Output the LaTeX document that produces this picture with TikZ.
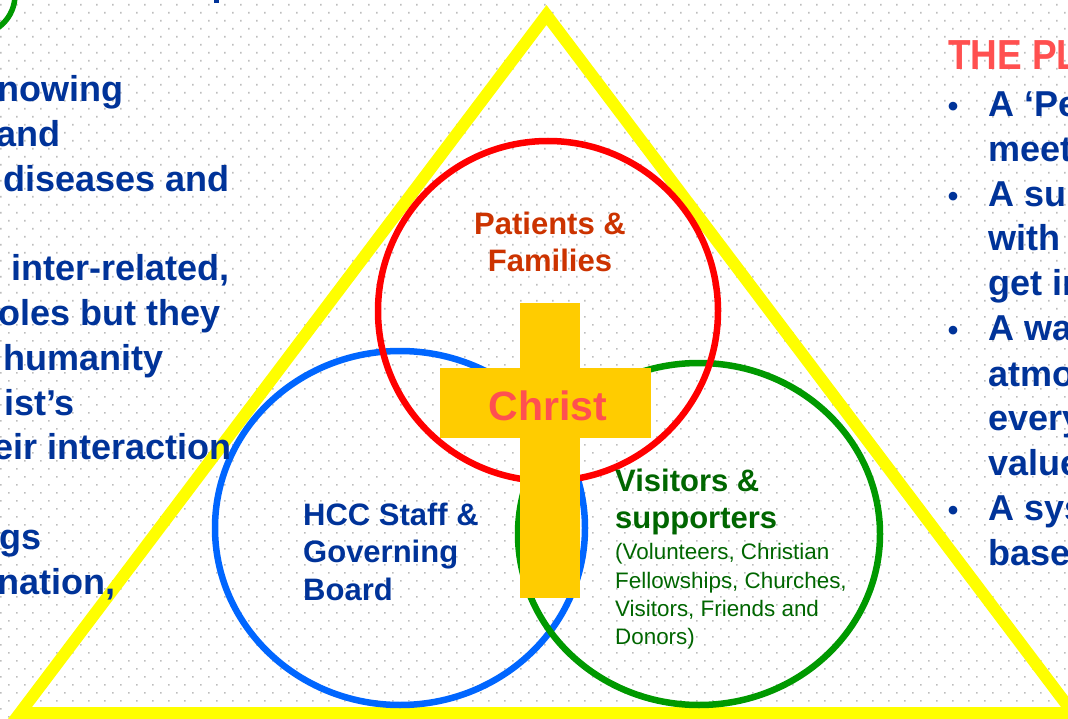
\documentclass[tikz,border=0pt]{standalone}
\usepackage{fontspec}
\setmainfont{Liberation Sans}
\definecolor{dotc}{HTML}{BDBDBD}
\definecolor{tri}{HTML}{FFFF00}
\definecolor{redc}{HTML}{FF0000}
\definecolor{bluec}{HTML}{0066FF}
\definecolor{greenc}{HTML}{009900}
\definecolor{crossc}{HTML}{FFCC00}
\definecolor{christc}{HTML}{FF5050}
\definecolor{patc}{HTML}{CC3300}
\definecolor{navy}{HTML}{003399}
\definecolor{dgreen}{HTML}{006600}
\definecolor{titlec}{HTML}{FF5050}
\begin{document}
\begin{tikzpicture}[x=1pt,y=-1pt,
  bigtxt/.style={inner sep=0pt,text=navy,font=\fontsize{36}{45}\selectfont\bfseries},
  labtxt/.style={inner sep=0pt,font=\fontsize{31}{37}\selectfont\bfseries},
  smalltxt/.style={inner sep=0pt,text=dgreen,font=\fontsize{22.4}{28}\selectfont},
  ring/.style={line width=6.5pt}]
\useasboundingbox (0,0) rectangle (1068,719);
\clip (0,0) rectangle (1068,719);
\fill[white] (0,0) rectangle (1068,719);
% dotted background
\fill[dotc] \foreach \r in {0,...,89} {
  \foreach \c in {0,...,67} {
    ({mod(\r,2)*8+16*\c},{4+8*\r}) rectangle ++(1.7,1.7)
  }
};
% partial green circle top-left and blue mark at top
\draw[greenc,line width=5.5pt] (-25,-5) circle[radius=40];
\fill[navy] (214,0) rectangle (219,3);
% triangle
\draw[tri,line width=12pt] (546.5,15) coordinate (apex) -- (20,713) coordinate (bl) -- (1073,713) coordinate (br) -- cycle;
% circles
\draw[ring,bluec] (400,528) ellipse[x radius=185,y radius=177];
\node[inner sep=0pt] (bluecirc) at (400,528) {};
\draw[ring,greenc] (699,534) ellipse[x radius=181,y radius=171];
\node[inner sep=0pt] (greencirc) at (699,534) {};
\draw[ring,redc] (548,311) circle[radius=170];
\node[inner sep=0pt] (redcirc) at (548,311) {};
% cross
\fill[crossc] (520,303) rectangle (580,598);
\fill[crossc] (440,368) rectangle (651,438);
\node[inner sep=0pt,anchor=base,text=christc,font=\fontsize{41}{48}\selectfont\bfseries] (christ) at (548,420) {Christ};
% circle labels
\node[labtxt,text=patc,anchor=base] (pat1) at (550,235) {Patients \&};
\node[labtxt,text=patc,anchor=base] (pat2) at (550,272) {Families};
\node[labtxt,text=navy,anchor=base west] (hcc1) at (303,525) {HCC Staff \&};
\node[labtxt,text=navy,anchor=base west] (hcc2) at (303,562) {Governing};
\node[labtxt,text=navy,anchor=base west] (hcc3) at (303,600) {Board};
\node[labtxt,text=dgreen,anchor=base west] (vis1) at (615,491) {Visitors \&};
\node[labtxt,text=dgreen,anchor=base west] (vis2) at (615,528) {supporters};
\node[smalltxt,anchor=base west] (vs1) at (615,559) {(Volunteers, Christian};
\node[smalltxt,anchor=base west] (vs2) at (615,588) {Fellowships, Churches,};
\node[smalltxt,anchor=base west] (vs3) at (615,616) {Visitors, Friends and};
\node[smalltxt,anchor=base west] (vs4) at (615,644) {Donors)};
% left text (cropped)
\node[bigtxt,anchor=base west] (l1) at (-3,102) {nowing};
\node[bigtxt,anchor=base west] (l2) at (-4,147) {and};
\node[bigtxt,anchor=base west] (l3) at (3,192) {diseases and};
\node[bigtxt,anchor=base west] (l4) at (11,280) {inter-related,};
\node[bigtxt,anchor=base west] (l5) at (-2,325) {oles but they};
\node[bigtxt,anchor=base west] (l6) at (3,370) {humanity};
\node[bigtxt,anchor=base west] (l7) at (4,415) {ist’s};
\node[bigtxt,anchor=base west] (l8) at (-7,459) {eir interaction};
\node[bigtxt,anchor=base west] (l9) at (-1,549) {gs};
\node[bigtxt,anchor=base west] (l10) at (-3,594) {nation,};
% right text (cropped)
\node[inner sep=0pt,anchor=base west,text=titlec,xscale=0.88,font=\fontsize{42}{48}\selectfont\bfseries] (title) at (948,70) {THE PL};
\foreach \n/\yy in {b1/117,b2/207,b3/341,b4/520} {
  \node[inner sep=0pt,anchor=base,text=navy,font=\fontsize{30}{36}\selectfont\bfseries] (\n) at (953,\yy) {•};
}
\node[bigtxt,anchor=base west] (r1) at (988,117) {A ‘Pe};
\node[bigtxt,anchor=base west] (r2) at (988,162) {meet};
\node[bigtxt,anchor=base west] (r3) at (988,207) {A su};
\node[bigtxt,anchor=base west] (r4) at (988,251) {with};
\node[bigtxt,anchor=base west] (r5) at (988,296) {get in};
\node[bigtxt,anchor=base west] (r6) at (988,341) {A wa};
\node[bigtxt,anchor=base west] (r7) at (988,386) {atmo};
\node[bigtxt,anchor=base west] (r8) at (988,430) {every};
\node[bigtxt,anchor=base west] (r9) at (988,475) {value};
\node[bigtxt,anchor=base west] (r10) at (988,520) {A sys};
\node[bigtxt,anchor=base west] (r11) at (988,565) {base};
\end{tikzpicture}
\end{document}
